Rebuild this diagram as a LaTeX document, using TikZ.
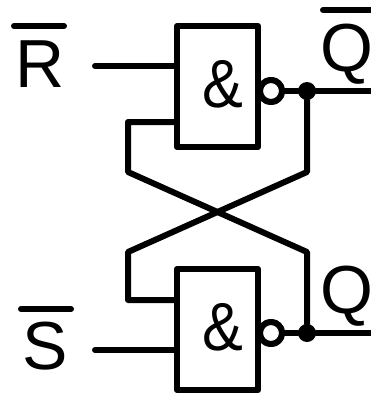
\documentclass[tikz,border=0pt]{standalone}
\usepackage{fontspec}
\setmainfont{Liberation Sans}
\tikzset{
  wire/.style={line width=6pt,line cap=round,line join=round},
  gate/.style={draw,wire,minimum width=81pt,minimum height=121pt,inner sep=0pt},
  bubble/.style={draw,wire,circle,fill=white,minimum size=22pt,inner sep=0pt},
  junction/.style={circle,fill=black,minimum size=18pt,inner sep=0pt},
  letter/.style={anchor=base west,inner sep=0pt,font=\fontsize{68pt}{68pt}\selectfont},
  ampersand/.style={letter,xscale=0.9,transform shape}
}

\begin{document}
\begin{tikzpicture}[x=1pt,y=-1pt]
    \useasboundingbox (0,0) rectangle (371,397);
    \coordinate (R0) at (95,66);
    \coordinate (S0) at (95,350);
    \coordinate (A0) at (128,122);
    \coordinate (A1) at (128,172);
    \coordinate (A2) at (307,252);
    \coordinate (B0) at (128,300);
    \coordinate (B1) at (128,252);
    \coordinate (B2) at (307,172);
    \coordinate (Q0) at (372,91);
    \coordinate (Q1) at (372,333);
    \coordinate (C0) at (14,26);
    \coordinate (C1) at (64,26);
    \coordinate (D0) at (21,309);
    \coordinate (D1) at (71,309);
    \coordinate (E0) at (323,10);
    \coordinate (E1) at (372,10);
      \node [gate] (gateR) at (217.5,86.5) {};
      \node [gate] (gateS) at (217.5,329.5) {};
      \node [junction] (dotR) at (307,91) {};
      \node [junction] (dotS) at (307,333) {};
      \node [bubble] (bubbleR) at (271,91) {};
      \node [bubble] (bubbleS) at (271,333) {};
      \node [ampersand] (ampR) at (202,107) {\&};
      \node [ampersand] (ampS) at (202,350) {\&};
      \node [letter] (labelR) at (15,87) {R};
      \node [letter] (labelS) at (22,369) {S};
      \node [letter] (labelQbar) at (320,71) {Q};
      \node [letter] (labelQ) at (320,313) {Q};
      \draw [wire] (R0) -- (R0 -| gateR.west);
      \draw [wire] (S0) -- (S0 -| gateS.west);
      \draw [wire] (bubbleR) -- (dotR);
      \draw [wire] (bubbleS) -- (dotS);
      \draw [wire] (dotR) -- (Q0);
      \draw [wire] (dotS) -- (Q1);
      \draw [wire] (A0 -| gateR.west) -- (A0) -- (A1) -- (A2) -- (dotS);
      \draw [wire] (B0 -| gateS.west) -- (B0) -- (B1) -- (B2) -- (dotR);
      \draw [wire] (C0) -- (C1);
      \draw [wire] (D0) -- (D1);
      \draw [wire] (E0) -- (E1);
      \node [bubble] at (bubbleR) {};
      \node [bubble] at (bubbleS) {};
  \end{tikzpicture}
\end{document}
